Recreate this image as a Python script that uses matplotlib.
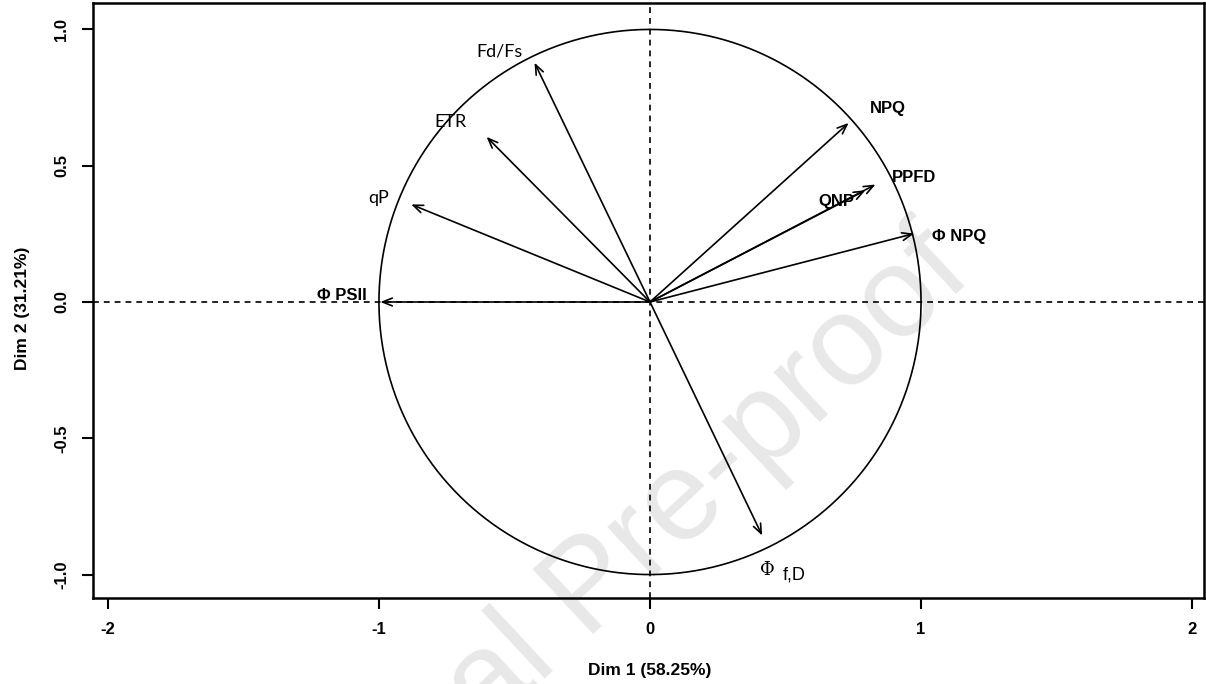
import matplotlib
matplotlib.use("Agg")
import matplotlib.pyplot as plt
import numpy as np

# variable coordinates on the first two PCA dimensions
var_names = ["Fd/Fs", "ETR", "qP", "Φ PSII", "NPQ", "PPFD", "QNP", "Φ NPQ", "Φ f,D"]
dim1 = [-0.426, -0.603, -0.881, -0.995, 0.733, 0.832, 0.795, 0.974, 0.414]
dim2 = [0.878, 0.606, 0.358, 0.000, 0.657, 0.431, 0.410, 0.251, -0.857]

# where each label sits (data units)
label_x = [-0.555, -0.736, -1.002, -1.138, 0.876, 0.976, 0.688, 1.142, None]
label_y = [0.919, 0.659, 0.380, 0.024, 0.710, 0.457, 0.369, 0.240, None]

xlab = "Dim 1 (58.25%)"
ylab = "Dim 2 (31.21%)"
xticks = [-2, -1, 0, 1, 2]
yticks = [-1.0, -0.5, 0.0, 0.5, 1.0]

plt.rcParams["font.family"] = ["Liberation Sans", "DejaVu Sans"]

fig = plt.figure(figsize=(12.06, 6.84), dpi=100)
ax = fig.add_axes([93 / 1206, 86 / 684, 1111 / 1206, 595 / 684])
ax.set_xlim(-2.055, 2.044)
ax.set_ylim(-1.086, 1.097)

# faint diagonal stamp, kept under the lines
ax.text(975 / 1206, 1 - 278 / 684, "Journal Pre-proof", transform=fig.transFigure,
        ha="right", va="baseline", rotation=43, rotation_mode="anchor",
        fontsize=92, color="#e8e8e8",
        family=["Liberation Sans", "DejaVu Sans"], clip_on=False, zorder=0.5)

# correlation circle
t = np.linspace(0, 2 * np.pi, 400)
ax.plot(np.cos(t), np.sin(t), color="black", lw=1.2, zorder=3)

# dashed axes through the origin
ax.axhline(0, color="black", lw=1.2, ls=(0, (3.5, 3)), zorder=2)
ax.axvline(0, color="black", lw=1.2, ls=(0, (3.5, 3)), zorder=2)

for i in range(len(var_names)):
    ax.annotate("", xy=(dim1[i], dim2[i]), xytext=(0, 0),
                arrowprops=dict(arrowstyle="->,head_length=0.7,head_width=0.28",
                                color="black", lw=1.2, shrinkA=0, shrinkB=0),
                zorder=4)

sans_labels = {"Fd/Fs", "ETR", "qP"}
for i, name in enumerate(var_names):
    if label_x[i] is None:
        continue
    if name in sans_labels:
        ax.text(label_x[i], label_y[i], name, ha="center", va="center",
                fontsize=13, family=["Lato", "DejaVu Sans"], zorder=5)
    else:
        ax.text(label_x[i], label_y[i], name, ha="center", va="center",
                fontsize=12, fontweight="bold",
                family=["Liberation Sans", "DejaVu Sans"], zorder=5)

# Φ f,D with the lowered f,D part
ax.text(0.434, -0.985, "Φ", ha="center", va="center", fontsize=13,
        family=["DejaVu Serif"], zorder=5)
ax.text(0.533, -1.0, "f,D", ha="center", va="center", fontsize=13, zorder=5)

ax.set_xticks(xticks)
ax.set_yticks(yticks)
ax.set_xticklabels([str(v) for v in xticks], fontsize=12, fontweight="bold")
ax.set_yticklabels(["%.1f" % v for v in yticks], fontsize=12, fontweight="bold",
                   rotation=90, va="center")
ax.tick_params(axis="both", direction="out", length=8, width=1.5, pad=9)
for s in ax.spines.values():
    s.set_linewidth(1.8)

fig.text(650 / 1206, 1 - 671 / 684, xlab, ha="center", va="center", fontsize=12.5,
         fontweight="bold")
fig.text(23 / 1206, 1 - 308 / 684, ylab, ha="center", va="center", fontsize=12.5,
         fontweight="bold", rotation=90)

fig.savefig("out.png", dpi=100)
